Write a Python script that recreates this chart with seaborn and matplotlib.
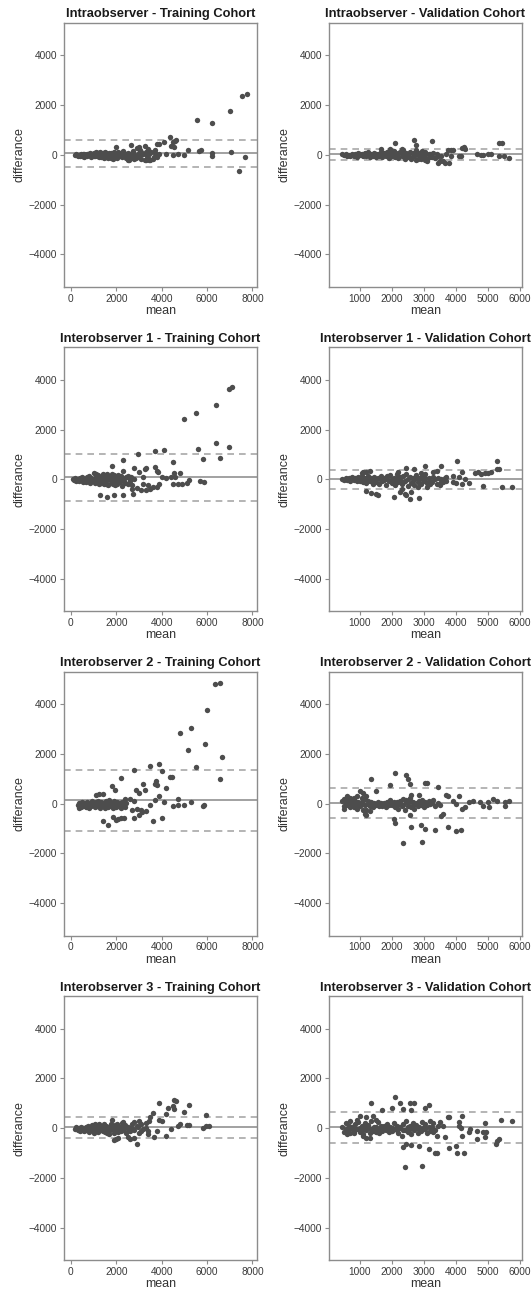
import numpy as np
import pandas as pd
import seaborn as sns
import matplotlib.pyplot as plt

# (mean, difference) pairs
intra_train = [
    (200, -20), (250, 30), (300, -40), (350, 10), (400, -60), (450, 20), (500, -30), (550, 40), (600, -70), (650, 0),
    (700, -50), (750, 30), (800, -20), (850, 60), (900, -80), (950, 40), (1000, 90), (1050, -60), (1100, 120), (1150, -40),
    (1200, 80), (1250, -100), (1300, 100), (1350, -70), (1400, 60), (1450, -120), (1500, 110), (1550, -90), (1600, 30),
    (1650, -140), (1700, 90), (1750, -110), (1800, 50), (1850, -150), (1900, 120), (1950, -80), (2000, 20), (2050, -120),
    (2100, 100), (2150, -60), (2200, 60), (2250, -100), (2300, 140), (2350, -40), (2400, 40), (2450, -130), (2500, 90),
    (2550, -200), (2600, 30), (2700, -80), (2750, 150), (2800, 20), (2850, -110), (2900, 260), (2950, -40), (3000, 80),
    (3050, 190), (3100, -150), (3200, 50), (3250, -200), (3300, 120), (3350, -60), (3450, 20), (3500, -210), (3550, 100),
    (3650, -80), (3700, 60), (3800, -100), (1000, -30), (1200, 20), (1400, -40), (1600, -20), (1800, -60), (2000, -100),
    (600, 20), (800, 50), (1100, 0), (1300, 0), (1500, 0), (1700, -30), (1900, -30), (2100, -20),
    (1150, 60), (1350, 40), (1550, 60), (1750, 70), (1950, 60), (2150, 40), (2350, 80), (2550, -60), (2650, -120),
    (2800, -150), (3000, -100), (3150, 30), (3400, -120), (2250, 20), (1650, 0), (1450, -60), (900, 10), (700, 20),
    (2000, 330), (2650, 400), (3000, 300), (3400, 250), (3700, 200), (3800, 450), (3900, 430), (4100, 530), (4350, 720),
    (4400, 350), (4500, 500), (4550, 330), (4600, 560), (4650, 600), (4500, -20), (4700, 30), (5000, 0), (5150, 200),
    (5550, 1380), (5650, 150), (5750, 200), (6200, 1270), (6200, 70), (6200, -30), (7000, 1780), (7050, 130),
    (7400, -670), (7550, 2360), (7650, -80), (7750, 2460), (3300, -200), (3450, -200), (3600, -150), (2500, -200),
    (3100, 100), (3250, 350), (4200, 50), (3900, 50),
]
intra_val = [
    (450, 30), (500, -20), (550, 50), (600, -40), (650, 10), (700, -60), (750, 40), (800, -30), (850, 20), (900, -70),
    (950, 60), (1000, -20), (1050, 30), (1100, -60), (1150, 80), (1200, -40), (1250, 100), (1300, -80), (1350, 50),
    (1400, -30), (1450, 70), (1500, -90), (1550, 40), (1600, -60), (1650, 120), (1700, -100), (1750, 60), (1800, -50),
    (1850, 100), (1900, -120), (1950, 80), (2000, -60), (2050, 150), (2100, -100), (2150, 40), (2200, -140), (2250, 120),
    (2300, -60), (2350, 180), (2400, -150), (2450, 60), (2500, -90), (2550, 130), (2600, -160), (2650, 90), (2700, -40),
    (2750, 200), (2800, -180), (2850, 70), (2900, -120), (2950, 150), (3000, -60), (3050, 100), (3100, -150), (3150, 40),
    (3250, -80), (3300, 60), (3350, -140), (3400, 30), (3550, -50), (3700, 40), (3850, -40), (1000, 40), (1500, 20),
    (2000, 20), (2500, 10), (2200, 60), (1800, 30), (1200, 10),
    (1350, -20), (1650, 20), (1950, -10), (2150, -40), (2450, -30), (2650, -60), (2850, -20), (3050, 0), (2350, 30),
    (1750, -20), (1450, 10), (2750, 40), (2950, -40), (3200, 20), (3450, -60),
    (2100, 470), (2700, 580), (2750, 380), (3250, 540), (1650, 250), (1950, 250), (2300, 250), (3050, -200),
    (3100, -250), (3200, -100), (3450, -320), (3500, -270), (3600, -250), (3650, -340), (3800, -330), (3850, 200),
    (3900, 180), (3750, 200), (4100, -30), (4150, -50), (4200, 280), (4250, 300), (4300, 250), (4650, 20), (4800, -20),
    (4850, -20), (5000, 20), (5100, 30), (5350, 470), (5450, 480), (5350, -40), (5500, -40), (5650, -130), (2750, -200),
    (2900, -150),
]
inter1_train = [
    (100, 10), (150, -30), (200, 40), (250, -60), (300, 20), (350, -80), (400, 60), (450, -40), (500, 90), (550, -100),
    (600, 30), (650, -120), (700, 110), (750, -60), (800, 150), (850, -140), (900, 60), (950, -90), (1000, 250),
    (1050, -160), (1100, 200), (1150, -40), (1200, 180), (1250, -200), (1300, 100), (1350, -110), (1400, 220),
    (1450, -180), (1500, 140), (1550, -60), (1600, 230), (1650, -220), (1700, 90), (1750, -150), (1800, 200), (1850, -90),
    (1900, 170), (1950, -250), (2000, 60), (2050, -180), (2100, 180), (2150, -100), (2200, 120), (2250, -260), (2300, 40),
    (2400, -150), (2450, 90), (2500, -200), (2600, -50), (2700, -250), (2800, 30), (1000, 0), (1200, 30), (1400, -20),
    (1600, 40), (1800, 0), (2000, -40), (600, -20), (800, -10), (1300, -40), (1700, 0), (1900, -60),
    (1100, 80), (1250, 60), (1450, 80), (1550, 100), (1750, 60), (1950, 90), (2150, 40), (2350, -60), (1150, -120),
    (1350, -160), (1550, -200), (1850, -180), (2050, -60), (900, -40), (700, 0), (500, 10), (2550, 40), (2650, 80),
    (5000, 2430), (5500, 2680), (6400, 2980), (6950, 3640), (7100, 3730), (6400, 1450), (6950, 1300), (5600, 1220),
    (4100, 1190), (3700, 1120), (2950, 1000), (5800, 800), (6550, 870), (4500, 700), (2300, 760), (1800, 540),
    (2800, 460), (3300, 470), (3700, 500), (3800, 350), (3850, 280), (4550, 270), (4800, 250), (4600, 100), (4400, 80),
    (1300, -630), (1600, -730), (1900, -650), (2300, -640), (2750, -600), (2700, -380), (2900, -370), (3100, -450),
    (3300, -430), (3500, -380), (3600, -320), (3800, -300), (3900, -200), (4500, -200), (4700, -200), (4900, -180),
    (5100, -150), (5200, -40), (5700, -70), (5850, -100), (3200, -200), (3400, -250), (2500, 150), (2300, 350),
    (3000, 300), (3250, 400), (3200, 100), (4000, 100), (4200, 50),
]
inter1_val = [
    (450, 20), (500, -40), (550, 60), (600, -20), (650, 40), (700, -60), (750, 80), (800, -30), (850, 50), (900, -80),
    (950, 100), (1000, -50), (1050, 150), (1100, -100), (1150, 60), (1200, -150), (1250, 120), (1300, -60), (1350, 40),
    (1400, -200), (1450, 100), (1500, -120), (1550, 60), (1600, -180), (1650, 150), (1700, -80), (1750, 40), (1800, -220),
    (1850, 130), (1900, -60), (1950, 180), (2000, -150), (2050, 60), (2100, -250), (2150, 200), (2200, -120), (2250, 80),
    (2300, -200), (2350, 150), (2400, -60), (2450, 220), (2500, -280), (2550, 100), (2600, -150), (2650, 40), (2700, -220),
    (2750, 180), (2800, -100), (2850, 60), (2900, -200), (2950, 120), (3000, -80), (3050, 200), (3100, -150), (3150, 40),
    (3250, -100), (3300, 100), (3400, -180), (3450, 50), (3550, -120), (3650, 60), (3700, -50), (1000, 20), (1500, 10),
    (2000, 30), (2500, 0), (3000, 20), (1250, 0), (1750, -20), (2250, -10),
    (1150, -30), (1350, -80), (1650, -40), (1850, 0), (2050, -90), (2350, -100), (2650, -80), (2850, -30), (3150, -60),
    (3350, 20), (2150, 40), (1450, 30), (2750, 60), (3050, 40), (3550, 0),
    (4050, 730), (5300, 720), (5350, 430), (5300, 400), (3050, 540), (3550, 540), (2450, 470), (2700, 400), (4600, 250),
    (4700, 300), (4800, 200), (4900, 270), (5000, 260), (5100, 290), (4200, 300), (4100, 100), (3900, 150), (4300, 0),
    (4400, -150), (4200, -200), (4000, -150), (3900, -100), (4850, -290), (5450, -300), (5750, -320), (1200, -480),
    (1350, -550), (1500, -580), (1550, -650), (2050, -720), (2250, -500), (2400, -600), (2450, -650), (2550, -800),
    (2850, -760), (2600, -500), (2300, -400), (1050, 250), (1100, 300), (1200, 300), (1300, 320), (2200, 300),
    (2900, 250), (3300, 300), (3400, 350), (3700, 100), (3600, -100), (3100, -300), (3200, -200), (2800, -300),
    (3500, -250),
]
inter2_train = [
    (300, -50), (350, -180), (400, 30), (450, -120), (500, 60), (550, -90), (600, 20), (650, -150), (700, 80), (750, -60),
    (800, -170), (850, 40), (900, -100), (950, 100), (1000, -60), (1050, -150), (1100, 60), (1150, -110), (1200, 120),
    (1250, -40), (1300, -180), (1350, 90), (1400, -80), (1450, 20), (1500, -160), (1550, 130), (1600, -50), (1650, -120),
    (1700, 150), (1750, -90), (1800, 40), (1850, -180), (1900, 100), (1950, -60), (2000, -140), (2050, 70), (2100, -100),
    (2150, 20), (2200, -160), (2250, 90), (2300, -50), (2400, -120), (2450, 30), (600, -40), (800, 0), (1000, 10),
    (1200, -20), (1400, 40), (1600, 0), (1800, -40), (2000, 10), (2200, -30), (500, -30), (1100, -20), (1700, -30),
    (350, 20), (450, 0), (550, 30), (650, -20), (750, 20), (850, -60), (950, -10), (1050, 40), (1150, 10), (1250, 50),
    (1350, -30), (1450, -90), (1550, -20), (1650, 60), (1750, 20), (1850, -20), (1950, 50), (2050, -40), (2150, -80),
    (2250, -10), (2350, 40),
    (6550, 4870), (6350, 4800), (6000, 3780), (5300, 3050), (4800, 2850), (5150, 2170), (5900, 2400), (6650, 1880),
    (5500, 1480), (6550, 980), (3900, 1600), (3500, 1500), (4000, 1300), (2800, 1350), (4350, 1080), (4450, 1080),
    (2200, 1050), (4200, 650), (3700, 800), (3750, 900), (3800, 750), (3200, 800), (2850, 550), (3000, 450), (3250, 550),
    (1800, 730), (1950, 550), (1100, 350), (1250, 380), (1400, 380), (2800, 100), (2400, 200), (2600, 200), (3600, -700),
    (4000, -580), (2800, -570), (3000, -450), (3300, -300), (3150, -350), (1400, -700), (1650, -850), (1850, -550),
    (2000, -650), (2100, -600), (2200, -580), (2350, -580), (2700, -250), (3500, -50), (3700, 150), (3900, 300),
    (4100, 80), (4500, -100), (4700, -50), (4700, 200), (5000, -70), (5300, 50), (5800, -100), (5850, -50), (1300, -50),
    (2900, -200), (3100, -250),
]
inter2_val = [
    (450, 100), (500, -80), (550, 150), (600, -40), (650, 60), (700, -150), (750, 200), (800, -60), (850, 120),
    (900, -200), (950, 80), (1000, -100), (1050, 250), (1100, -30), (1150, 180), (1200, -250), (1250, 100), (1300, -80),
    (1350, 60), (1400, -150), (1450, 20), (1500, -60), (1550, 80), (1600, -100), (1650, 40), (1700, -80), (1750, 20),
    (1800, -120), (1850, 50), (1900, -60), (1950, 150), (2000, -40), (2050, 80), (2100, -150), (2150, 60), (2200, -200),
    (2250, 120), (2300, -100), (2350, 200), (2400, -250), (2450, 150), (2500, -80), (2550, 250), (2600, -150), (2650, 60),
    (2700, -200), (2750, 40), (2800, -100), (2850, 120), (2900, -40), (2950, 150), (3000, -150), (3050, 60), (3100, -60),
    (3150, 100), (3200, -30), (3300, 150), (3350, -100), (3450, 40), (3500, -60), (1000, 40), (1500, 0), (2000, 20),
    (2500, 30), (3000, 0), (750, 0), (1250, -20), (2250, 0), (2750, -20),
    (550, 30), (650, -60), (850, -20), (950, -40), (1050, 60), (1150, -60), (1350, -30), (2150, -50), (2350, -40),
    (2450, 50), (2650, -50), (2850, -60), (3050, -20), (3250, 40), (2550, 100),
    (2100, 1230), (2450, 1150), (2500, 980), (1350, 1010), (1950, 750), (2550, 780), (3050, 830), (3100, 820),
    (3450, 680), (1500, 500), (1000, 500), (1100, 450), (3700, 350), (3750, 300), (4100, 300), (2850, 350), (2600, 350),
    (2350, -1580), (2950, -1540), (2600, -930), (2900, -870), (3050, -1000), (3350, -1060), (3750, -920), (4000, -1100),
    (4150, -1060), (2050, -600), (2100, -780), (1150, -420), (1200, -450), (2550, -450), (3600, -400), (3550, -500),
    (4200, -200), (4300, -150), (4550, 120), (4750, 60), (4850, -100), (5000, 50), (5050, -120), (5150, 180),
    (5300, 120), (5550, 80), (5550, -80), (5650, 100), (4000, 0), (4400, 50), (3900, 100), (500, 200), (600, 300),
    (700, 250), (800, 250), (900, 300), (1200, 300), (1300, -300), (1100, -250), (500, -200), (800, -150),
]
inter3_train = [
    (200, -20), (250, 30), (300, -60), (350, 10), (400, -100), (450, 40), (500, -50), (550, 20), (600, -130), (650, 50),
    (700, -40), (750, 80), (800, -160), (850, 30), (900, -90), (950, 120), (1000, -200), (1050, 150), (1100, -60),
    (1150, 100), (1200, -150), (1250, 180), (1300, -40), (1350, 60), (1400, -120), (1450, 160), (1500, -60), (1550, 100),
    (1600, -180), (1650, 40), (1700, -100), (1750, 150), (1800, -30), (1850, 80), (1900, -200), (1950, 120), (2000, -60),
    (2050, 180), (2100, -150), (2150, 60), (2200, -100), (2250, 200), (2300, -60), (2400, 120), (2450, -180), (2500, 60),
    (2600, -120), (2700, 150), (2800, -60), (2900, 100), (3000, -200), (3100, 180), (3200, -50), (3300, 200), (3400, -100),
    (1000, 20), (1500, 0), (2000, 30), (2500, -20), (700, -10), (1200, 10), (1700, -20), (2200, 10),
    (450, -20), (550, -70), (650, -80), (850, -40), (950, -30), (1050, 40), (1150, -20), (1350, -60), (1450, 30),
    (1550, -20), (1750, 40), (1950, -40), (2150, -40), (2350, 50), (2550, -80), (2650, 20), (2750, -20), (2950, 40),
    (4550, 1150), (4650, 1080), (3900, 1020), (5200, 920), (4500, 900), (4550, 780), (4300, 820), (5000, 650),
    (4200, 580), (3600, 600), (5950, 540), (3500, 450), (3900, 350), (3450, 300), (4000, 300), (3000, 300), (2800, 250),
    (2300, 250), (1800, 350), (4800, 150), (5100, 130), (5200, 120), (4700, 100), (5800, 0), (5950, 80), (6100, 70),
    (4400, -20), (4200, -300), (3650, -350), (3400, -250), (2900, -650), (2800, -400), (2600, -450), (2500, -350),
    (2100, -400), (2000, -450), (1900, -480), (1700, -250), (1500, -150), (3800, -100), (3100, -100), (3300, 0),
]
inter3_val = [
    (450, 60), (500, -150), (550, 200), (600, -60), (650, 100), (700, -200), (750, 40), (800, -100), (850, 150),
    (900, -30), (950, 250), (1000, -150), (1050, 80), (1100, -250), (1150, 200), (1200, -60), (1250, 120), (1300, -180),
    (1350, 300), (1400, -100), (1450, 60), (1500, -150), (1550, 250), (1600, -40), (1650, 100), (1700, -120), (1750, 80),
    (1800, -60), (1850, 150), (1900, -150), (1950, 40), (2000, -100), (2050, 200), (2100, -40), (2150, 100), (2200, -200),
    (2250, 60), (2300, -300), (2350, 150), (2400, -80), (2450, 300), (2500, -150), (2550, 100), (2600, -220), (2650, 200),
    (2700, -60), (2750, 120), (2800, -200), (2850, 60), (2900, -100), (2950, 250), (3000, -50), (3050, 150), (3100, -200),
    (3150, 60), (3200, -100), (3300, 200), (3350, -60), (3450, 100), (1000, 20), (1500, 30), (2000, 10), (2500, 30),
    (3000, 40), (750, 0), (1250, 0), (1750, 10), (2250, 20), (2750, 0),
    (550, -40), (650, -30), (850, -40), (1050, -60), (1150, 30), (1350, -40), (1450, -60), (1650, -30), (1850, -40),
    (2050, -30), (2150, -60), (2350, -60), (2550, -40), (2650, 40), (2850, -40), (3050, -50), (3250, 40),
    (2100, 1270), (1350, 1020), (2250, 1000), (2550, 1020), (2700, 1010), (3150, 950), (3050, 800), (2000, 830),
    (2350, 780), (1700, 730), (2600, 750), (4200, 500), (3800, 470), (3750, 470), (4100, 270), (5750, 310), (5400, 350),
    (4900, 200), (2400, -1570), (2950, -1500), (3150, -850), (3350, -1000), (3400, -1000), (3800, -780), (4000, -700),
    (4050, -1000), (4250, -1000), (2350, -750), (2450, -650), (2600, -680), (2850, -700), (5250, -650), (5300, -500),
    (5350, -430), (4650, -430), (4900, -350), (4950, -150), (4850, -150), (4650, -100), (4450, -50), (4400, -150),
    (4200, -300), (4150, 0), (4100, 100), (3650, -350), (3400, -300), (3300, -150), (3600, 100), (3500, 250), (3200, 300),
    (1200, -400), (1300, -400), (1100, -300), (600, -250), (800, -200), (1600, -200), (1400, 500), (1200, 450),
    (1000, 500), (900, 350), (700, 300), (1500, 350),
]

titles = [
    "Intraobserver - Training Cohort", "Intraobserver - Validation Cohort",
    "Interobserver 1 - Training Cohort", "Interobserver 1 - Validation Cohort",
    "Interobserver 2 - Training Cohort", "Interobserver 2 - Validation Cohort",
    "Interobserver 3 - Training Cohort", "Interobserver 3 - Validation Cohort",
]
# mean bias and limits of agreement
bias = [55, 20, 85, -5, 140, 20, 45, 35]
upper_loa = [590, 250, 1030, 390, 1370, 625, 460, 670]
lower_loa = [-480, -215, -870, -410, -1100, -585, -380, -610]

panels = [intra_train, intra_val, inter1_train, inter1_val,
          inter2_train, inter2_val, inter3_train, inter3_val]

sns.set_style("ticks")
plt.rcParams['font.family'] = ['Liberation Sans', 'DejaVu Sans']
plt.rcParams['axes.edgecolor'] = '#8c8c8c'
plt.rcParams['xtick.color'] = '#8c8c8c'
plt.rcParams['ytick.color'] = '#8c8c8c'
plt.rcParams['xtick.labelcolor'] = '#3a3a3a'
plt.rcParams['ytick.labelcolor'] = '#3a3a3a'

fig, axes = plt.subplots(4, 2, figsize=(5.32, 12.91), dpi=100)
fig.subplots_adjust(left=0.1203, right=0.9812, top=0.9822, bottom=0.024,
                    wspace=0.373, hspace=0.231)

for i, ax in enumerate(axes.flat):
    df = pd.DataFrame(panels[i], columns=['mean', 'diff'])
    sns.scatterplot(data=df, x='mean', y='diff', ax=ax, color='#4d4d4d',
                    s=15, linewidth=0, zorder=3)
    ax.axhline(bias[i], color='#9a9a9a', lw=1.3, zorder=2)
    ax.axhline(upper_loa[i], color='#a8a8a8', lw=1.2, ls='--', dashes=(4, 3), zorder=2)
    ax.axhline(lower_loa[i], color='#a8a8a8', lw=1.2, ls='--', dashes=(4, 3), zorder=2)

    ax.set_ylim(-5300, 5300)
    ax.set_yticks([-4000, -2000, 0, 2000, 4000])
    if i % 2 == 0:
        ax.set_xlim(-300, 8200)
        ax.set_xticks([0, 2000, 4000, 6000, 8000])
    else:
        ax.set_xlim(30, 6070)
        ax.set_xticks([1000, 2000, 3000, 4000, 5000, 6000])

    ax.set_title(titles[i], fontsize=9.3, fontweight='bold', color='#1a1a1a', pad=4)
    ax.set_xlabel('mean', fontsize=9, color='#333333', labelpad=1)
    ax.set_ylabel('differance', fontsize=9, color='#333333', labelpad=2)
    ax.tick_params(labelsize=7.3, length=3, width=0.8, pad=2)
    for sp in ax.spines.values():
        sp.set_linewidth(1.0)

fig.savefig('out.png', dpi=100)
